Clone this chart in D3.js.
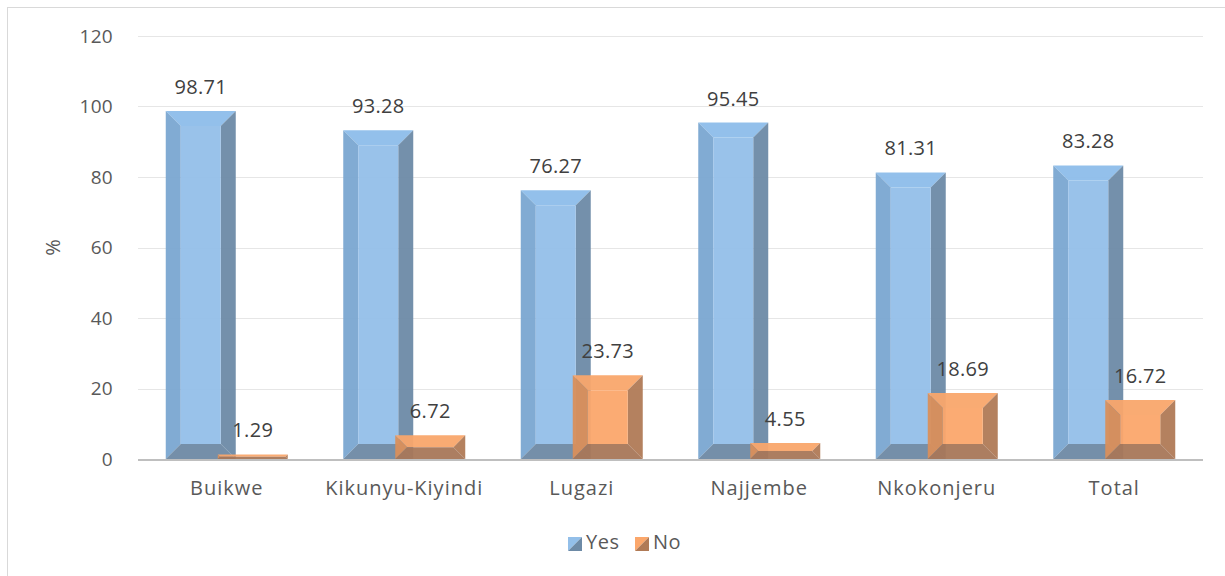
<!DOCTYPE html>
<html>
<head>
<meta charset="utf-8">
<script src="https://cdn.jsdelivr.net/npm/d3@7"></script>
<style>
  html, body { margin: 0; padding: 0; background: #fff; }
  svg { display: block; font-family: "Open Sans", "Liberation Sans", sans-serif; }
</style>
</head>
<body>
<svg id="chart" width="1225" height="576"></svg>
<script>
// Share of respondents by sub-county (%)
const categories = ["Buikwe", "Kikunyu-Kiyindi", "Lugazi", "Najjembe", "Nkokonjeru", "Total"];
const yesValues = [98.71, 93.28, 76.27, 95.45, 81.31, 83.28];
const noValues  = [1.29, 6.72, 23.73, 4.55, 18.69, 16.72];
const seriesNames = ["Yes", "No"];
const yTicks = [0, 20, 40, 60, 80, 100, 120];

const svg = d3.select("#chart");
const W = 1225, H = 576;
const FONT = "'Open Sans', 'Liberation Sans', sans-serif";

// outer frame
svg.append("rect").attr("x", 7.5).attr("y", 7.5).attr("width", W).attr("height", H)
  .attr("fill", "#fff").attr("stroke", "#d9d9d9").attr("stroke-width", 1);

const plot = { left: 138, right: 1203, top: 36, bottom: 459 };

const x = d3.scaleBand().domain(categories).range([plot.left, plot.right]).padding(0);
const y = d3.scaleLinear().domain([0, 120]).range([plot.bottom, plot.top]);

// gridlines
svg.append("g")
  .selectAll("line").data(yTicks.filter(t => t > 0)).join("line")
  .attr("x1", plot.left).attr("x2", plot.right)
  .attr("y1", d => Math.round(y(d)) + 0.5).attr("y2", d => Math.round(y(d)) + 0.5)
  .attr("stroke", "#e6e6e6").attr("stroke-width", 1);

// y axis labels
const yAxis = d3.axisLeft(y).tickValues(yTicks).tickSize(0).tickPadding(0);
const gy = svg.append("g").attr("transform", `translate(${plot.left - 25},0)`).call(yAxis);
gy.select(".domain").remove();
gy.selectAll("text").attr("fill", "#595959").attr("font-size", 19)
  .attr("font-family", FONT).attr("letter-spacing", 0.3);

// y axis title
svg.append("text")
  .attr("transform", `translate(55,${y(60)}) rotate(-90)`)
  .attr("text-anchor", "middle").attr("dominant-baseline", "middle")
  .attr("fill", "#595959").attr("font-size", 20).text("%");

// bars
const barW = 70, offset = 26, bevel = 15;
const palettes = {
  Yes: { face: "#93bfe9", top: "#8dbdea", left: "#7aa6d1", right: "#6d8aa6", bottom: "#6e89a4" },
  No:  { face: "#fba76b", top: "#f9a66c", left: "#d98f5b", right: "#b07a56", bottom: "#a87758" }
};

function drawBar(g, cx, v, pal) {
  const x0 = cx - barW / 2, x1 = cx + barW / 2;
  const y1 = y(0), y0 = y(v);
  const h = y1 - y0;
  const b = Math.min(bevel, h / 2, barW / 2);
  const ix0 = x0 + b, ix1 = x1 - b, iy0 = y0 + b, iy1 = y1 - b;
  const poly = (pts, fill) => g.append("polygon")
    .attr("points", pts.map(p => p.join(",")).join(" ")).attr("fill", fill).attr("fill-opacity", 0.95);
  poly([[x0, y0], [x1, y0], [ix1, iy0], [ix0, iy0]], pal.top);
  poly([[x0, y0], [ix0, iy0], [ix0, iy1], [x0, y1]], pal.left);
  poly([[x1, y0], [x1, y1], [ix1, iy1], [ix1, iy0]], pal.right);
  poly([[x0, y1], [ix0, iy1], [ix1, iy1], [x1, y1]], pal.bottom);
  if (ix1 > ix0 && iy1 > iy0) poly([[ix0, iy0], [ix1, iy0], [ix1, iy1], [ix0, iy1]], pal.face);
}

const barsG = svg.append("g");
const labelsG = svg.append("g");
const series = [
  { name: "Yes", values: yesValues, dx: -offset },
  { name: "No", values: noValues, dx: offset }
];
series.forEach(s => {
  categories.forEach((c, i) => {
    const cx = x(c) + x.bandwidth() / 2 + s.dx;
    drawBar(barsG, cx, s.values[i], palettes[s.name]);
    labelsG.append("text")
      .attr("x", cx).attr("y", y(s.values[i]) - 17)
      .attr("text-anchor", "middle").attr("fill", "#404040").attr("font-size", 20)
      .attr("letter-spacing", 0.3)
      .text(s.values[i].toFixed(2));
  });
});

// x axis line
svg.append("line").attr("x1", plot.left).attr("x2", plot.right)
  .attr("y1", plot.bottom + 1).attr("y2", plot.bottom + 1)
  .attr("stroke", "#bfbfbf").attr("stroke-width", 2);

// x axis labels
const xAxis = d3.axisBottom(x).tickSize(0).tickPadding(0);
const gx = svg.append("g").attr("transform", `translate(0,${plot.bottom + 22})`).call(xAxis);
gx.select(".domain").remove();
gx.selectAll("text").attr("fill", "#595959").attr("font-size", 20)
  .attr("font-family", FONT).attr("letter-spacing", 1).attr("dy", "0.71em");

// legend
const legend = svg.append("g").attr("transform", "translate(568,537)");
const legendItems = [
  { name: seriesNames[0], pal: palettes.Yes, x: 0 },
  { name: seriesNames[1], pal: palettes.No, x: 67 }
];
legendItems.forEach(it => {
  const g = legend.append("g").attr("transform", `translate(${it.x},0)`);
  g.append("polygon").attr("points", "0,0 14,0 0,14").attr("fill", it.pal.face);
  g.append("polygon").attr("points", "14,0 14,14 0,14").attr("fill", it.pal.right);
  g.append("text").attr("x", 18).attr("y", 7).attr("dominant-baseline", "middle")
    .attr("fill", "#595959").attr("font-size", 20).attr("letter-spacing", 0.5).text(it.name);
});
</script>
</body>
</html>
